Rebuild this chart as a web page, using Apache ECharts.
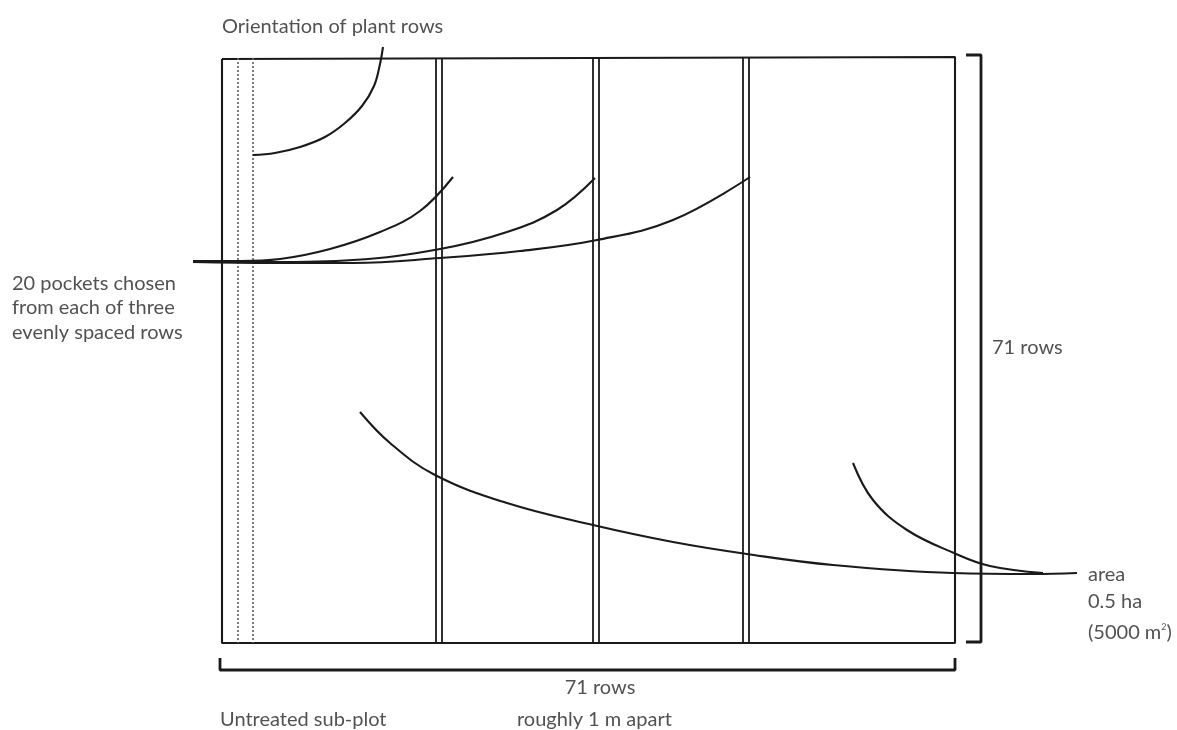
<!DOCTYPE html>
<html>
<head>
<meta charset="utf-8">
<script src="https://cdn.jsdelivr.net/npm/echarts@6/dist/echarts.min.js"></script>
<style>
html,body{margin:0;padding:0;background:#fff;}
#c{width:1177px;height:730px;}
</style>
</head>
<body>
<div id="c"></div>
<script>
// Diagram coordinates (x: 0..1177, y: 0..730 from top)
const plotFrame = [[222,59],[955,57],[955,643],[222,643],[222,59]];
const rowLineXs = [436, 442, 593, 599, 743, 749];
const rowLineTop = 58, rowLineBottom = 643;
const untreatedRowXs = [238, 253];
const rightBracket = [[966,55],[981,55],[981,642],[966,642]];
const bottomBracket = [[220,658],[220,670],[955,670],[955,658]];

const curveOrientation = [[383,47],[380,64],[374,86],[362,106],[345,123],[325,137],[300,147],[275,153],[253,155]];
const curvePocket1 = [[193,261],[240,261],[280,259],[330,249],[380,232],[420,211],[453,177]];
const curvePocket2 = [[193,262],[273,262],[353,260],[440,249],[507,232],[557,210],[595,178]];
const curvePocket3 = [[193,262],[273,263],[353,263],[440,258],[520,251],[597,240],[673,220],[750,177]];
const curveArea1 = [[360,412],[390,443],[435,475],[507,503],[593,525],[673,542],[747,554],[833,565],[953,573],[1033,574],[1077,573]];
const curveArea2 = [[853,463],[873,500],[907,530],[954,553],[990,566],[1043,573]];

const labelTexts = [
  'Orientation of plant rows',
  '20 pockets chosen\nfrom each of three\nevenly spaced rows',
  '71 rows',
  'area',
  '0.5 ha',
  '(5000 m{sup|2})',
  '71 rows',
  'Untreated sub-plot',
  'roughly 1 m apart'
];
const labelAnchors = [[222,27],[12,308],[992,348],[1088,575],[1088,602],[1088,633],[600,688],[220,720],[517,720]];
const labelAligns = ['left','left','left','left','left','left','center','left','left'];

const INK = '#1a1a1a';
const TEXT = '#262626';

function lineSeries(data, width, extra) {
  return Object.assign({
    type: 'line',
    data: data,
    showSymbol: false,
    symbol: 'none',
    silent: true,
    lineStyle: { color: INK, width: width },
    z: 2
  }, extra || {});
}

const series = [];
series.push(lineSeries(plotFrame, 2.1));
rowLineXs.forEach(x => series.push(lineSeries([[x,rowLineTop],[x,rowLineBottom]], 1.8)));
untreatedRowXs.forEach(x => series.push(lineSeries([[x,rowLineTop],[x,rowLineBottom]], 1.6,
  { lineStyle: { color: '#666666', width: 1.7, type: [2,2] } })));
series.push(lineSeries(rightBracket, 2.8));
series.push(lineSeries(bottomBracket, 2.8));
[curveOrientation, curvePocket1, curvePocket2, curvePocket3, curveArea1, curveArea2].forEach(c =>
  series.push(lineSeries(c, 2.1, { smooth: 0.4 })));

series.push({
  type: 'scatter',
  symbolSize: 0,
  silent: true,
  data: labelAnchors.map((p, i) => ({
    value: p,
    label: {
      show: true,
      position: [0, 0],
      formatter: labelTexts[i],
      align: labelAligns[i],
      verticalAlign: 'middle',
      color: TEXT,
      fontFamily: 'Lato',
      fontSize: 20,
      lineHeight: 24.5,
      rich: { sup: { fontSize: 9, color: TEXT, fontFamily: 'Lato', padding: [0,0,12,0] } }
    }
  })),
  z: 5
});

const chart = echarts.init(document.getElementById('c'), null, { renderer: 'canvas' });
chart.setOption({
  animation: false,
  backgroundColor: '#ffffff',
  grid: { left: 0, right: 0, top: 0, bottom: 0, containLabel: false },
  xAxis: { type: 'value', min: 0, max: 1177, show: false },
  yAxis: { type: 'value', min: 0, max: 730, inverse: true, show: false },
  series: series
});
</script>
</body>
</html>
